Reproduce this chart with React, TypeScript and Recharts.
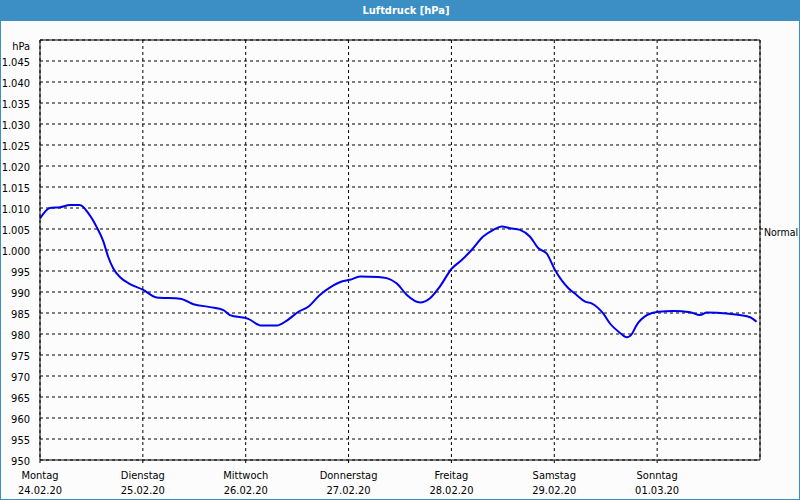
import React from 'react';
import {
  LineChart,
  Line,
  XAxis,
  YAxis,
  CartesianGrid,
  ReferenceLine,
} from 'recharts';

// hours since Monday 00:00 and pressure in hPa
const hours = [
  0, 2.3, 4.7, 7.0, 9.3, 11.3, 13.2, 14.8, 15.9, 17.1, 18.7, 21.0, 24.1, 27.2, 32.7, 35.8,
  39.7, 42.8, 44.3, 48.6, 51.7, 55.2, 57.6, 60.3, 62.6, 65.3, 67.7, 70.4, 72.3, 74.7, 78.9,
  80.9, 83.2, 85.6, 88.7, 91.0, 93.3, 96.1, 98.4, 100.7, 103.4, 105.8, 107.7, 109.7, 112.0,
  114.3, 116.3, 118.2, 120.2, 123.3, 125.2, 127.2, 128.7, 131.4, 133.0, 135.3, 136.9, 138.1,
  139.2, 141.6, 144.3, 147.8, 151.7, 154.0, 155.6, 160.2, 163.3, 165.7, 167.2,
];
const pressure = [
  1007.5, 1010.0, 1010.2, 1010.7, 1010.7, 1008.7, 1005.5, 1002.0, 998.4, 995.6, 993.5, 991.9,
  990.5, 988.7, 988.4, 987.1, 986.4, 985.7, 984.5, 983.6, 982.0, 982.0, 983.2, 985.3, 986.5,
  989.3, 991.1, 992.5, 992.9, 993.7, 993.6, 993.3, 992.1, 989.3, 987.5, 988.5, 991.3, 995.6,
  997.6, 1000.0, 1003.2, 1004.8, 1005.6, 1005.2, 1004.8, 1003.2, 1000.4, 999.2, 995.2, 990.9,
  989.3, 987.7, 987.3, 984.9, 982.5, 980.3, 979.2, 980.0, 982.1, 984.5, 985.3, 985.5, 985.2,
  984.5, 985.1, 984.9, 984.5, 984.0, 982.9,
];

const dayHours = [0, 24, 48, 72, 96, 120, 144];
const dayNames = ['Montag', 'Dienstag', 'Mittwoch', 'Donnerstag', 'Freitag', 'Samstag', 'Sonntag'];
const dayDates = ['24.02.20', '25.02.20', '26.02.20', '27.02.20', '28.02.20', '29.02.20', '01.03.20'];
const yTicks = [950, 955, 960, 965, 970, 975, 980, 985, 990, 995, 1000, 1005, 1010, 1015, 1020, 1025, 1030, 1035, 1040, 1045, 1050];
const normalValue = 1005;

const FONT = '"DejaVu Sans Condensed", "Liberation Sans", sans-serif';
const BLUE = '#3b8fc4';

const data = hours.map((h, i) => ({ h, p: pressure[i] }));

const fmtY = (v: number) => {
  if (v === 1050) return 'hPa';
  if (v >= 1000) return `1.${String(v - 1000).padStart(3, '0')}`;
  return String(v);
};

const DayTick = (props: any) => {
  const { x, y, payload } = props;
  const i = dayHours.indexOf(payload.value);
  return (
    <text x={x} y={y} textAnchor="middle" fontSize={11} fontFamily={FONT} fill="#000">
      <tspan x={x} dy={14}>{dayNames[i]}</tspan>
      <tspan x={x} dy={14.5}>{dayDates[i]}</tspan>
    </text>
  );
};

const PressTick = (props: any) => {
  const { x, y, payload } = props;
  const top = payload.value === 1050;
  return (
    <text x={x} y={y} dy={top ? 10 : 5} textAnchor="end" fontSize={11} fontFamily={FONT} fill="#000">
      {fmtY(payload.value)}
    </text>
  );
};

// small outward tick + "Normal" text on the right frame
const NormalLabel = (props: any) => {
  const { viewBox } = props;
  const x = viewBox.x + viewBox.width;
  const y = viewBox.y;
  return (
    <g>
      <line x1={x} x2={x + 3} y1={y} y2={y} stroke="#000" />
      <text x={x + 4} y={y} dy={7} fontSize={10.5} fontFamily={FONT} fill="#000">
        Normal
      </text>
    </g>
  );
};

export default function App() {
  return (
    <div style={{ position: 'absolute', left: 0, top: 0, width: 800, height: 500, background: '#fcfcfc', fontFamily: FONT }}>
      <LineChart width={800} height={500} data={data} margin={{ top: 40, right: 0, bottom: 0, left: 0 }}>
        <CartesianGrid yAxisId="left" stroke="#000" strokeDasharray="3 3" ticks={yTicks} />
        <XAxis
          dataKey="h"
          type="number"
          domain={[0, 168]}
          ticks={dayHours}
          height={40}
          tick={<DayTick />}
          tickSize={3}
          tickLine={{ stroke: '#000' }}
          axisLine={{ stroke: '#000', strokeWidth: 1 }}
          interval={0}
        />
        <YAxis
          yAxisId="left"
          type="number"
          domain={[950, 1050]}
          ticks={yTicks}
          interval={0}
          width={40}
          tickLine={false}
          tickMargin={4}
          tick={<PressTick />}
          axisLine={{ stroke: '#000' }}
          allowDataOverflow
        />
        <YAxis
          yAxisId="right"
          orientation="right"
          type="number"
          domain={[950, 1050]}
          width={40}
          tick={false}
          tickLine={false}
          axisLine={{ stroke: '#000' }}
        />
        <ReferenceLine yAxisId="left" y={1050} stroke="#000" strokeWidth={1} />
        <ReferenceLine yAxisId="left" y={normalValue} stroke="none" label={<NormalLabel />} />
        <Line
          yAxisId="left"
          dataKey="p"
          type="monotone"
          stroke="#0000ee"
          strokeWidth={2}
          dot={false}
          isAnimationActive={false}
        />
      </LineChart>
      <div
        style={{
          position: 'absolute', left: 0, top: 0, width: 800, height: 21, background: BLUE, boxSizing: 'border-box',
          paddingLeft: 12, color: '#fff', fontWeight: 'bold', fontSize: 11, lineHeight: '21px', textAlign: 'center',
        }}
      >
        Luftdruck [hPa]
      </div>
      <div
        style={{
          position: 'absolute', left: 0, top: 0, width: 800, height: 500, boxSizing: 'border-box',
          border: `1px solid ${BLUE}`, pointerEvents: 'none',
        }}
      />
    </div>
  );
}
